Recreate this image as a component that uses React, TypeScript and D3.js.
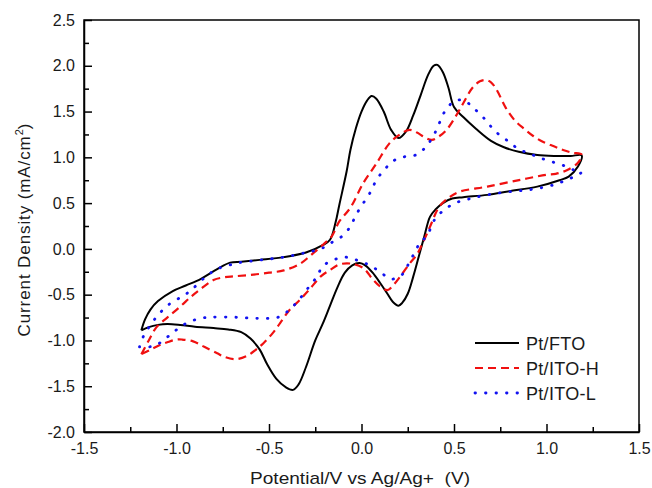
import React, { useEffect, useRef } from 'react'
import * as d3 from 'd3'

// Pt/FTO : left vertex -> anodic sweep -> right vertex -> cathodic sweep -> back
const ftoV = [-1.19, -1.17, -1.14, -1.10, -1.02, -0.95, -0.87, -0.78, -0.71, -0.65, -0.55, -0.42, -0.30, -0.21, -0.17, -0.14, -0.12, -0.08, -0.06, -0.03, 0.00, 0.03, 0.055, 0.08, 0.12, 0.16, 0.20, 0.24, 0.28, 0.32, 0.36, 0.39, 0.41, 0.44, 0.47, 0.50, 0.55, 0.62, 0.70, 0.77, 0.85, 0.95, 1.05, 1.13, 1.19,
  1.17, 1.12, 1.07, 0.95, 0.80, 0.68, 0.55, 0.49, 0.44, 0.40, 0.37, 0.34, 0.31, 0.28, 0.25, 0.22, 0.20, 0.17, 0.14, 0.10, 0.06, 0.02, -0.01, -0.05, -0.09, -0.13, -0.17, -0.21, -0.25, -0.30, -0.34, -0.37, -0.41, -0.46, -0.51, -0.55, -0.60, -0.65, -0.72, -0.80, -0.90, -0.98, -1.05, -1.10, -1.15, -1.19]
const ftoI = [-0.89, -0.77, -0.66, -0.57, -0.46, -0.40, -0.33, -0.22, -0.15, -0.14, -0.12, -0.09, -0.04, 0.04, 0.10, 0.29, 0.48, 0.85, 1.08, 1.32, 1.50, 1.62, 1.67, 1.64, 1.50, 1.30, 1.21, 1.28, 1.46, 1.68, 1.90, 2.00, 2.01, 1.93, 1.76, 1.55, 1.44, 1.31, 1.18, 1.11, 1.06, 1.025, 1.015, 1.015, 1.02,
  0.90, 0.79, 0.75, 0.68, 0.63, 0.59, 0.565, 0.55, 0.50, 0.43, 0.35, 0.14, -0.08, -0.30, -0.49, -0.59, -0.62, -0.58, -0.49, -0.37, -0.26, -0.18, -0.155, -0.18, -0.26, -0.42, -0.62, -0.82, -1.00, -1.29, -1.48, -1.54, -1.51, -1.42, -1.26, -1.10, -0.98, -0.91, -0.88, -0.865, -0.85, -0.83, -0.82, -0.83, -0.855, -0.89]

// Pt/ITO-H
const itoHV = [-1.19, -1.15, -1.11, -1.05, -0.98, -0.92, -0.87, -0.80, -0.74, -0.69, -0.60, -0.50, -0.42, -0.33, -0.28, -0.24, -0.20, -0.16, -0.12, -0.06, 0.01, 0.08, 0.15, 0.20, 0.26, 0.30, 0.34, 0.38, 0.42, 0.46, 0.51, 0.55, 0.60, 0.64, 0.67, 0.70, 0.73, 0.78, 0.83, 0.88, 0.93, 0.98, 1.04, 1.09, 1.14, 1.19,
  1.17, 1.11, 1.05, 1.00, 0.86, 0.68, 0.53, 0.48, 0.42, 0.37, 0.33, 0.30, 0.26, 0.21, 0.17, 0.14, 0.10, 0.06, 0.01, -0.06, -0.12, -0.17, -0.22, -0.28, -0.33, -0.39, -0.44, -0.48, -0.53, -0.57, -0.62, -0.68, -0.74, -0.78, -0.85, -0.91, -0.97, -1.00, -1.05, -1.09, -1.14, -1.19]
const itoHI = [-1.15, -1.00, -0.86, -0.75, -0.63, -0.52, -0.44, -0.34, -0.31, -0.30, -0.285, -0.26, -0.235, -0.16, -0.08, -0.01, 0.06, 0.14, 0.30, 0.45, 0.72, 0.93, 1.15, 1.24, 1.30, 1.27, 1.22, 1.19, 1.23, 1.30, 1.45, 1.59, 1.76, 1.83, 1.845, 1.82, 1.74, 1.54, 1.40, 1.31, 1.23, 1.17, 1.12, 1.08, 1.05, 1.03,
  0.94, 0.86, 0.82, 0.81, 0.755, 0.68, 0.625, 0.57, 0.46, 0.24, 0.06, -0.06, -0.16, -0.30, -0.40, -0.45, -0.41, -0.33, -0.21, -0.16, -0.17, -0.23, -0.30, -0.44, -0.55, -0.67, -0.81, -0.92, -1.03, -1.10, -1.17, -1.205, -1.18, -1.14, -1.07, -1.01, -0.99, -0.99, -1.02, -1.05, -1.10, -1.15]

// Pt/ITO-L
const itoLV = [-1.20, -1.18, -1.14, -1.09, -1.03, -0.96, -0.91, -0.84, -0.78, -0.71, -0.66, -0.57, -0.42, -0.30, -0.22, -0.17, -0.11, -0.06, -0.03, 0.01, 0.05, 0.08, 0.13, 0.18, 0.24, 0.30, 0.35, 0.39, 0.42, 0.45, 0.50, 0.55, 0.61, 0.67, 0.72, 0.79, 0.85, 0.91, 0.97, 1.04, 1.10, 1.15, 1.19,
  1.15, 1.11, 1.04, 0.92, 0.80, 0.68, 0.58, 0.505, 0.45, 0.40, 0.35, 0.32, 0.29, 0.26, 0.22, 0.16, 0.10, 0.04, -0.03, -0.09, -0.15, -0.21, -0.24, -0.29, -0.34, -0.39, -0.45, -0.57, -0.69, -0.81, -0.87, -0.945, -1.00, -1.05, -1.12, -1.20]
const itoLI = [-1.07, -0.96, -0.83, -0.70, -0.59, -0.51, -0.43, -0.30, -0.22, -0.175, -0.15, -0.127, -0.09, -0.04, 0.00, 0.06, 0.13, 0.245, 0.37, 0.50, 0.626, 0.75, 0.88, 0.97, 1.01, 1.03, 1.12, 1.24, 1.37, 1.50, 1.61, 1.625, 1.53, 1.41, 1.29, 1.18, 1.09, 1.04, 0.99, 0.945, 0.905, 0.86, 0.84,
  0.79, 0.755, 0.70, 0.65, 0.625, 0.59, 0.545, 0.50, 0.43, 0.335, 0.13, 0.08, -0.03, -0.14, -0.28, -0.33, -0.25, -0.175, -0.12, -0.09, -0.12, -0.19, -0.30, -0.43, -0.56, -0.666, -0.746, -0.758, -0.746, -0.746, -0.758, -0.81, -0.884, -0.964, -1.06, -1.07]

const seriesNames = ['Pt/FTO', 'Pt/ITO-H', 'Pt/ITO-L']
const xMajor = [-1.5, -1.0, -0.5, 0.0, 0.5, 1.0, 1.5]
const xMinor = [-1.25, -0.75, -0.25, 0.25, 0.75, 1.25]
const yMajor = [-2.0, -1.5, -1.0, -0.5, 0.0, 0.5, 1.0, 1.5, 2.0, 2.5]
const yMinor = [-1.75, -1.25, -0.75, -0.25, 0.25, 0.75, 1.25, 1.75, 2.25]

const W = 652
const H = 488
const margin = { left: 84, right: 13, top: 20, bottom: 56 }
const font = '"Liberation Sans", Arial, sans-serif'

const App = () => {
  const svgRef = useRef<SVGSVGElement>(null)

  useEffect(() => {
    const svg = d3.select(svgRef.current)
    svg.selectAll('*').remove()

    const x = d3.scaleLinear().domain([-1.5, 1.5]).range([margin.left, W - margin.right])
    const y = d3.scaleLinear().domain([-2.0, 2.5]).range([H - margin.bottom, margin.top])
    const fmt = (d: number) => d.toFixed(1)

    // frame
    svg.append('rect')
      .attr('x', x(-1.5)).attr('y', y(2.5))
      .attr('width', x(1.5) - x(-1.5)).attr('height', y(-2.0) - y(2.5))
      .attr('fill', 'none').attr('stroke', '#000').attr('stroke-width', 1.5)

    // x axis
    const gx = svg.append('g').attr('transform', `translate(0,${y(-2.0)})`)
      .call(d3.axisBottom(x).tickValues(xMajor).tickSize(-8).tickSizeOuter(0).tickPadding(11).tickFormat(fmt as any))
    svg.append('g').attr('transform', `translate(0,${y(-2.0)})`)
      .call(d3.axisBottom(x).tickValues(xMinor).tickSize(-5).tickFormat(() => ''))
      .call(g => g.select('.domain').remove())

    // y axis
    const gy = svg.append('g').attr('transform', `translate(${x(-1.5)},0)`)
      .call(d3.axisLeft(y).tickValues(yMajor).tickSize(-8).tickSizeOuter(0).tickPadding(9).tickFormat(fmt as any))
    svg.append('g').attr('transform', `translate(${x(-1.5)},0)`)
      .call(d3.axisLeft(y).tickValues(yMinor).tickSize(-5).tickFormat(() => ''))
      .call(g => g.select('.domain').remove())

    svg.selectAll('.tick line').attr('stroke-width', 1.5)
    svg.selectAll('.domain').attr('stroke-width', 1.5)
    for (const g of [gx, gy]) {
      g.selectAll('text').attr('font-family', font).attr('font-size', 16).attr('fill', '#1a1a1a')
    }

    // curves
    const line = d3.line<[number, number]>()
      .x(d => x(d[0])).y(d => y(d[1]))
      .curve(d3.curveCatmullRom.alpha(0.5))
    const series = [
      { v: ftoV, i: ftoI, color: '#000', dash: null, width: 2, cap: 'butt' },
      { v: itoHV, i: itoHI, color: '#f01010', dash: '8,5', width: 2.2, cap: 'butt' },
      { v: itoLV, i: itoLI, color: '#1212f0', dash: '0.5,10', width: 2.8, cap: 'round' },
    ]
    series.forEach(s => {
      const pts = s.v.map((v, k) => [v, s.i[k]] as [number, number])
      svg.append('path')
        .attr('d', line(pts))
        .attr('fill', 'none')
        .attr('stroke', s.color)
        .attr('stroke-width', s.width)
        .attr('stroke-dasharray', s.dash)
        .attr('stroke-linecap', s.cap)
        .attr('stroke-linejoin', 'round')
    })

    // legend
    const lg = svg.append('g')
    seriesNames.forEach((name, k) => {
      const s = series[k]
      const ly = 343 + k * 25
      lg.append('line')
        .attr('x1', 475).attr('x2', 519).attr('y1', ly).attr('y2', ly)
        .attr('stroke', s.color).attr('stroke-width', s.width)
        .attr('stroke-dasharray', s.dash).attr('stroke-linecap', s.cap)
      lg.append('text')
        .attr('x', 526).attr('y', ly + 6.5)
        .attr('font-family', font).attr('font-size', 18).attr('letter-spacing', 0.3).attr('fill', '#1a1a1a')
        .text(name)
    })

    // axis titles
    svg.append('text')
      .attr('x', 360).attr('y', 484)
      .attr('text-anchor', 'middle')
      .attr('font-family', font).attr('font-size', 17).attr('fill', '#1a1a1a')
      .attr('textLength', 220).attr('lengthAdjust', 'spacingAndGlyphs')
      .style('white-space', 'pre')
      .text('Potential/V vs Ag/Ag+  (V)')

    const yt = svg.append('text')
      .attr('transform', 'translate(30,230) rotate(-90)')
      .attr('text-anchor', 'middle')
      .attr('font-family', font).attr('font-size', 17).attr('fill', '#1a1a1a')
    yt.append('tspan').attr('letter-spacing', 0.9).text('Current Density (mA/cm')
    yt.append('tspan').attr('dy', -7).attr('font-size', 11).text('2')
    yt.append('tspan').attr('dy', 7).text(')')
  }, [])

  return (
    <svg ref={svgRef} width={W} height={H}
      style={{ position: 'absolute', left: 0, top: 0, background: '#fff' }} />
  )
}

export default App
